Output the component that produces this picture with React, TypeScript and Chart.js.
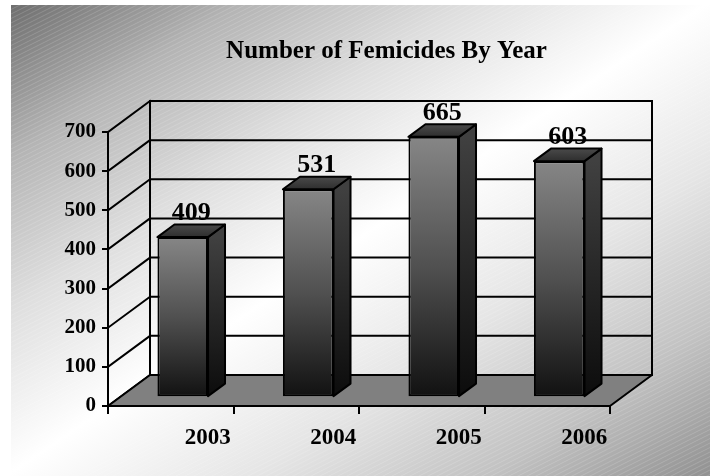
import React, { useEffect, useRef } from "react";
import { Chart, registerables } from "chart.js";

Chart.register(...registerables);

const titleText = "Number of Femicides By Year";
const categories = ["2003", "2004", "2005", "2006"];
const femicides = [409, 531, 665, 603];
const yTickValues = [0, 100, 200, 300, 400, 500, 600, 700];

const FONT = '"Liberation Serif", "Times New Roman", serif';
const DX = 42;
const DY = -31;
const BAR_FRONT = 0.285;
const BAR_DEPTH = 0.405;

const threeD = {
  id: "threeD",
  beforeDraw(chart: any) {
    const { ctx, width, height } = chart;
    ctx.save();
    ctx.fillStyle = "#ffffff";
    ctx.fillRect(0, 0, width, height);
    const bx = 11, by = 5, bw = 699, bh = 471;
    const g = ctx.createLinearGradient(bx, by, bx + 471, by + 699);
    g.addColorStop(0, "#6e6e6e");
    g.addColorStop(0.15, "#b4b4b4");
    g.addColorStop(0.3, "#dedede");
    g.addColorStop(0.46, "#ffffff");
    g.addColorStop(0.62, "#e6e6e6");
    g.addColorStop(0.78, "#c2c2c2");
    g.addColorStop(0.93, "#909090");
    g.addColorStop(1, "#888888");
    ctx.fillStyle = g;
    ctx.fillRect(bx, by, bw, bh);
    ctx.beginPath();
    ctx.rect(bx, by, bw, bh);
    ctx.clip();
    ctx.strokeStyle = "rgba(255,255,255,0.16)";
    ctx.lineWidth = 1;
    ctx.beginPath();
    for (let y = by; y < by + bh + bw * 0.5; y += 4.5) {
      ctx.moveTo(bx, y);
      ctx.lineTo(bx + bw, y - bw * 0.5);
    }
    ctx.stroke();
    ctx.restore();
  },
  beforeDatasetsDraw(chart: any) {
    const { ctx, chartArea, scales } = chart;
    const { left, right, top, bottom } = chartArea;
    const y = scales.y;
    ctx.save();
    ctx.strokeStyle = "#000";
    ctx.lineWidth = 2;
    ctx.lineJoin = "round";
    ctx.lineCap = "square";
    ctx.beginPath();
    for (const v of yTickValues) {
      const py = y.getPixelForValue(v);
      ctx.moveTo(left + DX, py + DY);
      ctx.lineTo(right + DX, py + DY);
      ctx.moveTo(left, py);
      ctx.lineTo(left + DX, py + DY);
    }
    ctx.moveTo(left + DX, top + DY);
    ctx.lineTo(left + DX, bottom + DY);
    ctx.moveTo(right + DX, top + DY);
    ctx.lineTo(right + DX, bottom + DY);
    ctx.stroke();
    ctx.beginPath();
    ctx.moveTo(left, bottom);
    ctx.lineTo(right, bottom);
    ctx.lineTo(right + DX, bottom + DY);
    ctx.lineTo(left + DX, bottom + DY);
    ctx.closePath();
    ctx.fillStyle = "#808080";
    ctx.fill();
    ctx.stroke();
    ctx.restore();
    ctx.save();
    ctx.translate(DX * BAR_FRONT, DY * BAR_FRONT);
  },
  afterDatasetsDraw(chart: any) {
    const { ctx } = chart;
    ctx.restore();
    const meta = chart.getDatasetMeta(0);
    const fx = DX * BAR_FRONT;
    const fy = DY * BAR_FRONT;
    const bdx = DX * BAR_DEPTH;
    const bdy = DY * BAR_DEPTH;
    ctx.save();
    ctx.strokeStyle = "#000";
    ctx.lineWidth = 2;
    ctx.lineJoin = "round";
    meta.data.forEach((el: any, i: number) => {
      const p = el.getProps(["x", "y", "base", "width"], true);
      const l = p.x - p.width / 2 + fx;
      const r = p.x + p.width / 2 + fx;
      const t = p.y + fy;
      const b = p.base + fy;
      const sg = ctx.createLinearGradient(0, t, 0, b);
      sg.addColorStop(0, "#404040");
      sg.addColorStop(1, "#0c0c0c");
      ctx.beginPath();
      ctx.moveTo(r, t);
      ctx.lineTo(r + bdx, t + bdy);
      ctx.lineTo(r + bdx, b + bdy);
      ctx.lineTo(r, b);
      ctx.closePath();
      ctx.fillStyle = sg;
      ctx.fill();
      ctx.stroke();
      const tg = ctx.createLinearGradient(0, t, 0, t + bdy);
      tg.addColorStop(0, "#2e2e2e");
      tg.addColorStop(1, "#4a4a4a");
      ctx.beginPath();
      ctx.moveTo(l, t);
      ctx.lineTo(r, t);
      ctx.lineTo(r + bdx, t + bdy);
      ctx.lineTo(l + bdx, t + bdy);
      ctx.closePath();
      ctx.fillStyle = tg;
      ctx.fill();
      ctx.stroke();
      ctx.fillStyle = "#000";
      ctx.font = `bold 26px ${FONT}`;
      ctx.textAlign = "center";
      ctx.textBaseline = "alphabetic";
      ctx.fillText(String(femicides[i]), (l + r) / 2 + bdx / 2, t - 17);
    });
    ctx.restore();
  },
  afterDraw(chart: any) {
    const { ctx } = chart;
    ctx.save();
    ctx.fillStyle = "#000";
    ctx.font = `bold 25px ${FONT}`;
    ctx.textAlign = "center";
    ctx.textBaseline = "alphabetic";
    ctx.fillText(titleText, 386.5, 58);
    ctx.restore();
  },
};

export default function App() {
  const canvasRef = useRef<HTMLCanvasElement | null>(null);

  useEffect(() => {
    document.body.style.margin = "0";
    const canvas = canvasRef.current;
    if (!canvas) return;
    const chart = new Chart(canvas, {
      type: "bar",
      data: {
        labels: categories,
        datasets: [
          {
            data: femicides,
            backgroundColor: (context: any) => {
              const c = context.chart;
              const ys = c.scales && c.scales.y;
              if (!ys || !context.parsed) return "#555";
              const top = ys.getPixelForValue(context.parsed.y);
              const bot = ys.getPixelForValue(0);
              if (!isFinite(top) || !isFinite(bot)) return "#555";
              const g = c.ctx.createLinearGradient(0, top, 0, bot);
              g.addColorStop(0, "#868686");
              g.addColorStop(0.5, "#505050");
              g.addColorStop(1, "#111111");
              return g;
            },
            borderColor: "#000",
            borderWidth: 2,
            borderSkipped: false,
            barPercentage: 0.403,
            categoryPercentage: 1,
            clip: false as any,
          },
        ],
      },
      options: {
        responsive: false,
        animation: false,
        devicePixelRatio: 1,
        layout: { padding: { left: 0, right: 105, top: 132, bottom: 0 } },
        plugins: {
          legend: { display: false },
          tooltip: { enabled: false },
          title: { display: false },
        },
        scales: {
          x: {
            afterFit: (s: any) => {
              s.height = 70;
            },
            grid: {
              offset: true,
              drawOnChartArea: false,
              drawTicks: true,
              tickLength: 8,
              color: "#000",
              lineWidth: 2,
            },
            border: { display: true, color: "#000", width: 2 },
            ticks: {
              color: "#000",
              labelOffset: 37,
              padding: 10,
              maxRotation: 0,
              autoSkip: false,
              font: { family: FONT, size: 23, weight: "bold" },
            },
          },
          y: {
            min: 0,
            max: 700,
            afterFit: (s: any) => {
              s.width = 108;
            },
            afterBuildTicks: (s: any) => {
              s.ticks = yTickValues.map((v) => ({ value: v }));
            },
            grid: {
              drawOnChartArea: false,
              drawTicks: true,
              tickLength: 6,
              color: "#000",
              lineWidth: 2,
            },
            border: { display: true, color: "#000", width: 2 },
            ticks: {
              color: "#000",
              padding: 6,
              font: { family: FONT, size: 21, weight: "bold" },
            },
          },
        },
      },
      plugins: [threeD],
    } as any);
    return () => chart.destroy();
  }, []);

  return (
    <div style={{ width: 715, height: 476 }}>
      <canvas ref={canvasRef} width={715} height={476} />
    </div>
  );
}
